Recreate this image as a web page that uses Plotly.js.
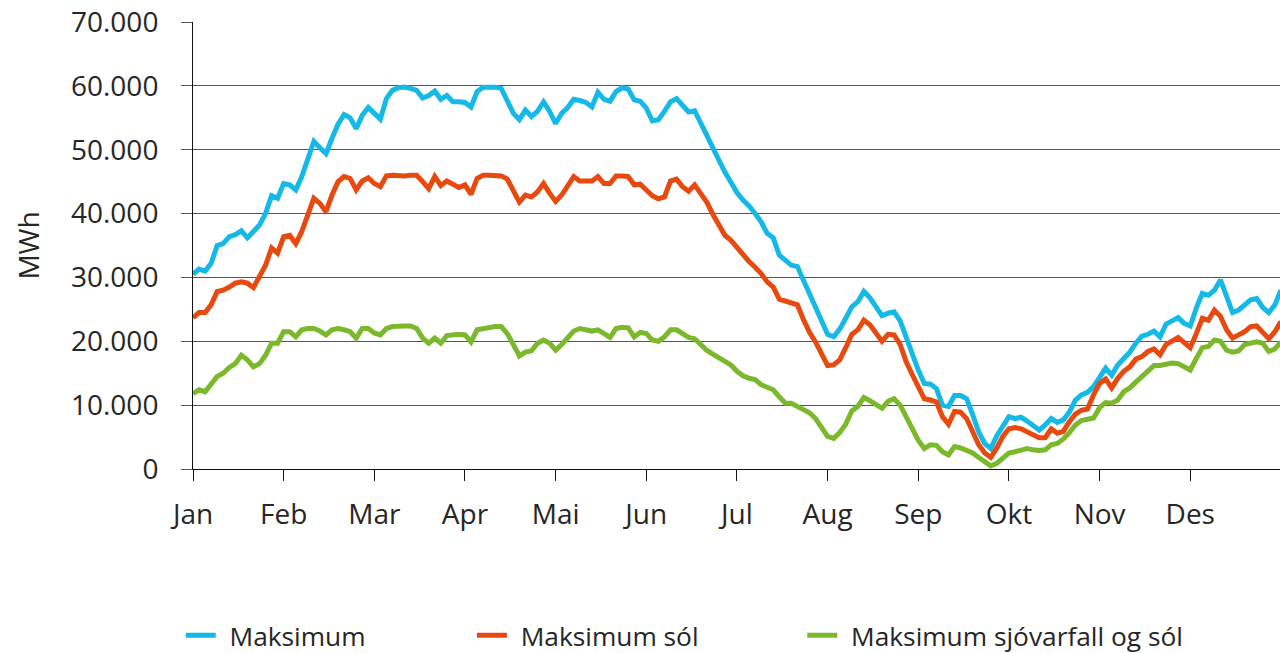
<!DOCTYPE html>
<html>
<head>
<meta charset="utf-8">
<script src="https://cdn.plot.ly/plotly-3.0.1.min.js"></script>
<style>
  html, body { margin: 0; padding: 0; background: #fff; }
  #chart { width: 1280px; height: 653px; }
</style>
</head>
<body>
<div id="chart"></div>
<script>
// Month tick labels
const months = ["Jan", "Feb", "Mar", "Apr", "Mai", "Jun", "Jul", "Aug", "Sep", "Okt", "Nov", "Des"];
// Samples per month (in thousand MWh)
const samplesPerMonth = 15;

const maksimum = [
  30.5, 31.3, 31.0, 32.2, 35.0, 35.3, 36.4, 36.7, 37.3, 36.2, 37.2, 38.2, 40.0, 42.8, 42.4,
  44.7, 44.5, 43.7, 45.8, 48.4, 51.3, 50.3, 49.4, 51.8, 54.0, 55.5, 55.0, 53.3, 55.4, 56.6,
  55.7, 54.8, 58.0, 59.3, 59.7, 59.8, 59.6, 59.3, 58.1, 58.5, 59.2, 57.9, 58.5, 57.5, 57.5,
  57.4, 56.7, 59.1, 59.8, 59.8, 59.8, 59.6, 57.8, 55.7, 54.7, 56.2, 55.2, 56.0, 57.5, 56.0,
  54.1, 55.7, 56.6, 57.9, 57.7, 57.4, 56.7, 59.0, 57.9, 57.6, 59.1, 59.7, 59.5, 57.8, 57.6,
  56.5, 54.5, 54.7, 56.0, 57.5, 58.0, 56.9, 55.9, 56.1, 54.4, 52.3, 50.3, 48.2, 46.5, 44.9,
  43.3, 42.1, 41.2, 40.0, 38.7, 36.9, 36.2, 33.5, 32.8, 31.9, 31.7, 29.6, 27.5, 25.4, 23.3,
  21.1, 20.7, 21.9, 23.6, 25.4, 26.2, 27.8, 26.8, 25.4, 24.0, 24.4, 24.6, 23.2, 20.7, 17.8,
  15.5, 13.4, 13.3, 12.6, 10.0, 9.8, 11.5, 11.5, 11.0, 8.5, 5.8, 4.0, 3.2, 5.2, 6.9,
  8.2, 7.9, 8.1, 7.5, 6.9, 6.1, 6.9, 7.9, 7.3, 7.7, 8.9, 10.8, 11.6, 12.0, 12.9,
  14.5, 15.8, 14.7, 16.3, 17.3, 18.3, 19.7, 20.8, 21.1, 21.6, 20.7, 22.7, 23.2, 23.7, 22.8,
  22.4, 25.2, 27.5, 27.2, 28.0, 29.6, 26.8, 24.5, 24.9, 25.8, 26.5, 26.7, 25.3, 24.5, 25.7,
  28.0
];

const maksimumSol = [
  23.7, 24.5, 24.5, 25.7, 27.8, 28.0, 28.5, 29.1, 29.3, 29.1, 28.4, 30.1, 31.9, 34.6, 33.8,
  36.4, 36.6, 35.3, 37.2, 39.8, 42.4, 41.6, 40.3, 42.9, 45.0, 45.8, 45.5, 43.7, 45.1, 45.6,
  44.7, 44.2, 45.9, 46.0, 45.9, 45.9, 46.0, 46.0, 45.0, 43.9, 45.8, 44.4, 45.1, 44.5, 44.1,
  44.5, 43.0, 45.5, 46.0, 46.0, 46.0, 45.9, 45.4, 43.7, 41.8, 42.9, 42.6, 43.4, 44.7, 43.2,
  41.9, 42.9, 44.4, 45.8, 45.1, 45.1, 45.1, 45.8, 44.7, 44.7, 45.9, 45.9, 45.8, 44.5, 44.6,
  43.7, 42.8, 42.3, 42.6, 45.1, 45.4, 44.2, 43.5, 44.5, 43.2, 41.8, 39.9, 38.1, 36.6, 35.8,
  34.7, 33.5, 32.5, 31.6, 30.6, 29.3, 28.5, 26.6, 26.3, 25.9, 25.7, 23.4, 21.4, 19.9, 18.1,
  16.2, 16.3, 17.1, 19.0, 21.1, 21.8, 23.3, 22.6, 21.4, 20.0, 21.1, 21.0, 19.5, 16.8, 14.8,
  12.9, 11.0, 10.8, 10.5, 8.2, 7.0, 9.0, 8.9, 7.9, 5.7, 3.8, 2.5, 1.8, 3.3, 5.1,
  6.3, 6.5, 6.3, 5.9, 5.3, 4.9, 4.9, 6.3, 5.6, 5.9, 7.4, 8.6, 9.2, 9.4, 11.6,
  13.4, 14.1, 12.7, 14.2, 15.3, 16.0, 17.2, 17.6, 18.4, 18.8, 17.9, 19.5, 20.1, 20.6, 19.8,
  19.0, 21.2, 23.6, 23.3, 24.9, 23.9, 21.8, 20.5, 20.9, 21.5, 22.3, 22.4, 21.4, 20.4, 21.5,
  23.1
];

const maksimumSjovarfallOgSol = [
  11.8, 12.4, 12.1, 13.2, 14.5, 15.0, 15.9, 16.5, 17.8, 17.1, 16.0, 16.5, 17.8, 19.7, 19.7,
  21.5, 21.5, 20.7, 21.8, 22.0, 22.0, 21.6, 21.0, 21.8, 22.0, 21.8, 21.5, 20.5, 22.0, 22.0,
  21.3, 21.0, 22.0, 22.3, 22.4, 22.4, 22.4, 22.0, 20.5, 19.7, 20.5, 19.7, 20.9, 21.0, 21.1,
  21.0, 19.9, 21.8, 22.0, 22.2, 22.3, 22.3, 21.2, 19.5, 17.7, 18.3, 18.5, 19.7, 20.2, 19.7,
  18.6, 19.5, 20.7, 21.6, 22.0, 21.7, 21.6, 21.8, 21.2, 20.6, 22.0, 22.2, 22.1, 20.7, 21.4,
  21.2, 20.2, 20.0, 20.7, 21.8, 21.8, 21.1, 20.6, 20.4, 19.5, 18.6, 18.0, 17.4, 16.9, 16.3,
  15.3, 14.6, 14.2, 14.0, 13.2, 12.8, 12.4, 11.3, 10.3, 10.3, 9.9, 9.3, 8.8, 7.9, 6.5,
  5.1, 4.8, 5.7, 7.0, 9.1, 9.8, 11.2, 10.7, 10.0, 9.5, 10.6, 11.0, 10.0, 8.2, 6.4,
  4.5, 3.2, 3.8, 3.7, 2.7, 2.2, 3.5, 3.3, 3.0, 2.5, 1.8, 1.1, 0.5, 0.9, 1.8,
  2.5, 2.7, 2.9, 3.2, 3.0, 2.9, 3.0, 3.8, 4.0, 4.7, 5.7, 6.9, 7.6, 7.8, 8.0,
  9.6, 10.4, 10.3, 10.8, 12.1, 12.7, 13.6, 14.5, 15.3, 16.2, 16.2, 16.5, 16.6, 16.5, 16.1,
  15.5, 17.3, 19.0, 19.2, 20.2, 20.0, 18.6, 18.3, 18.5, 19.5, 19.8, 19.9, 19.7, 18.4, 18.8,
  19.9
];

const yTicks = [0, 10000, 20000, 30000, 40000, 50000, 60000, 70000];

const FONT = "'Open Sans', 'DejaVu Sans', sans-serif";
const TXT = "#262626";
const GAP = "\u2004";

function series(vals, name, color, legendId) {
  return {
    type: "scatter",
    mode: "lines",
    name: GAP + name,
    x: vals.map((_, i) => i / samplesPerMonth),
    y: vals.map(v => v * 1000),
    line: { color: color, width: 5, shape: "linear" },
    legend: legendId,
    hoverinfo: "skip"
  };
}

const data = [
  series(maksimum, "Maksimum", "#14b9e8", "legend"),
  series(maksimumSol, "Maksimum sól", "#e8490f", "legend2"),
  series(maksimumSjovarfallOgSol, "Maksimum sjóvarfall og sól", "#7bb82c", "legend3")
];

const legendBase = {
  orientation: "h",
  yanchor: "middle",
  y: -0.373,
  xanchor: "left",
  bgcolor: "rgba(0,0,0,0)",
  borderwidth: 0,
  itemwidth: 30,
  font: { family: FONT, size: 26.3, color: TXT }
};

const layout = {
  width: 1280,
  height: 653,
  margin: { l: 193, r: 0, t: 22, b: 184, autoexpand: false },
  paper_bgcolor: "#ffffff",
  plot_bgcolor: "#ffffff",
  separators: ",.",
  font: { family: FONT, size: 28, color: TXT },
  showlegend: true,
  legend: Object.assign({}, legendBase, { x: -0.0113 }),
  legend2: Object.assign({}, legendBase, { x: 0.2566 }),
  legend3: Object.assign({}, legendBase, { x: 0.5605 }),
  xaxis: {
    range: [0, 11.99],
    tickmode: "array",
    tickvals: months.map((_, i) => i),
    ticktext: months,
    ticks: "outside",
    ticklen: 11,
    tickwidth: 1,
    tickcolor: "#111111",
    showgrid: false,
    zeroline: false,
    showline: true,
    linecolor: "#111111",
    linewidth: 1,
    ticklabelstandoff: 9,
    tickfont: { family: FONT, size: 28, color: TXT },
    fixedrange: true
  },
  yaxis: {
    range: [0, 70000],
    tickmode: "array",
    tickvals: yTicks,
    tickformat: ",.0f",
    ticks: "outside",
    ticklen: 11,
    tickwidth: 1,
    tickcolor: "#555555",
    showgrid: true,
    gridcolor: "#555555",
    gridwidth: 1,
    zeroline: false,
    showline: true,
    linecolor: "#111111",
    linewidth: 1,
    ticklabelstandoff: 17,
    tickfont: { family: FONT, size: 28, color: TXT },
    title: { text: "MWh", font: { family: FONT, size: 28, color: TXT }, standoff: 23 },
    fixedrange: true
  }
};

Plotly.newPlot("chart", data, layout, { staticPlot: true, displayModeBar: false });
</script>
</body>
</html>
